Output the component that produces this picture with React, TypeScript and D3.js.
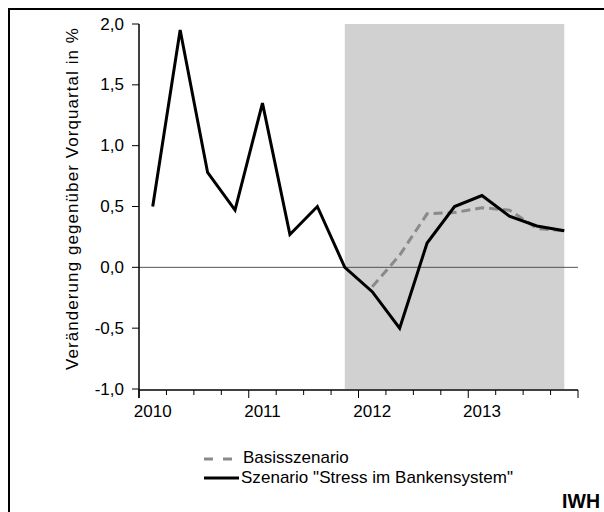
import * as d3 from "d3";

// quarters 2010Q1 .. 2013Q4
const quarters = [
  "2010Q1", "2010Q2", "2010Q3", "2010Q4",
  "2011Q1", "2011Q2", "2011Q3", "2011Q4",
  "2012Q1", "2012Q2", "2012Q3", "2012Q4",
  "2013Q1", "2013Q2", "2013Q3", "2013Q4",
];
const stress = [0.5, 1.95, 0.78, 0.47, 1.35, 0.27, 0.5, 0.0, -0.2, -0.5, 0.2, 0.5, 0.59, 0.42, 0.34, 0.3];
// basis scenario starts in 2012Q1
const basisStart = 8;
const basis = [-0.16, 0.1, 0.44, 0.45, 0.49, 0.47, 0.32, 0.3];
const years = ["2010", "2011", "2012", "2013"];
const yTicks = [2, 1.5, 1, 0.5, 0, -0.5, -1];
const shadeFrom = 7; // 2011Q4
const shadeTo = 15; // 2013Q4

const FONT = "'Liberation Sans', Arial, sans-serif";

export default function App() {
  const width = 604;
  const height = 512;
  const left = 139;
  const right = 578;
  const top = 24;
  const bottom = 389;

  const x = d3.scaleLinear().domain([0, quarters.length]).range([left, right]);
  const y = d3.scaleLinear().domain([-1, 2]).range([bottom, top]);
  const xc = (i: number) => x(i + 0.5);

  const line = d3
    .line<number>()
    .x((_, i) => xc(i))
    .y((d) => y(d));
  const basisLine = d3
    .line<number>()
    .x((_, i) => xc(i + basisStart))
    .y((d) => y(d));

  const fmt = (v: number) => d3.format(".1f")(v).replace(".", ",").replace("−", "-");
  const axisY = bottom + 1;

  return (
    <svg
      width={width}
      height={height}
      style={{ position: "absolute", left: 0, top: 0, background: "#fff" }}
      fontFamily={FONT}
    >
      {/* frame */}
      <line x1={9} y1={9} x2={width} y2={9} stroke="#000" strokeWidth={2} />
      <line x1={9} y1={8} x2={9} y2={height} stroke="#000" strokeWidth={2} />

      {/* forecast shading */}
      <rect
        x={xc(shadeFrom)}
        y={y(2)}
        width={xc(shadeTo) - xc(shadeFrom)}
        height={y(-1) - y(2)}
        fill="#d1d1d1"
      />

      {/* zero line */}
      <line x1={left} x2={right} y1={y(0)} y2={y(0)} stroke="#555" strokeWidth={1} />

      {/* y axis */}
      <line x1={left} x2={left} y1={top} y2={axisY + 8} stroke="#000" strokeWidth={1.5} />
      {yTicks.map((t) => (
        <g key={t}>
          <line x1={left - 7} x2={left} y1={y(t)} y2={y(t)} stroke="#000" strokeWidth={1} />
          <text x={124} y={y(t) + 5.5} textAnchor="end" fontSize={17}>
            {fmt(t)}
          </text>
        </g>
      ))}
      <text
        transform={`translate(78,199) rotate(-90)`}
        textAnchor="middle"
        fontSize={17}
        textLength={342}
        lengthAdjust="spacing"
      >
        Veränderung gegenüber Vorquartal in  %
      </text>

      {/* x axis */}
      <line x1={left} x2={right} y1={axisY} y2={axisY} stroke="#000" strokeWidth={1.5} />
      {d3.range(quarters.length + 1).map((i) => (
        <line
          key={i}
          x1={x(i)}
          x2={x(i)}
          y1={axisY}
          y2={axisY + (i % 4 === 0 ? 8 : 5)}
          stroke="#000"
          strokeWidth={1}
        />
      ))}
      {years.map((yr, k) => (
        <text key={yr} x={xc(k * 4)} y={417} textAnchor="middle" fontSize={17}>
          {yr}
        </text>
      ))}

      {/* series */}
      <path
        d={basisLine(basis) ?? ""}
        fill="none"
        stroke="#8a8a8a"
        strokeWidth={3}
        strokeDasharray="9 5"
      />
      <path
        d={line(stress) ?? ""}
        fill="none"
        stroke="#000"
        strokeWidth={3}
        strokeLinejoin="miter"
      />

      {/* legend */}
      <line x1={204} x2={232} y1={459} y2={459} stroke="#8a8a8a" strokeWidth={3} strokeDasharray="9 10" />
      <text x={243} y={463} fontSize={17}>
        Basisszenario
      </text>
      <line x1={204} x2={239} y1={478} y2={478} stroke="#000" strokeWidth={3} />
      <text x={241} y={482.5} fontSize={17} textLength={272} lengthAdjust="spacing">
        Szenario "Stress im Bankensystem"
      </text>

      <text x={600} y={508} textAnchor="end" fontSize={19.5} fontWeight="bold">
        IWH
      </text>
    </svg>
  );
}
